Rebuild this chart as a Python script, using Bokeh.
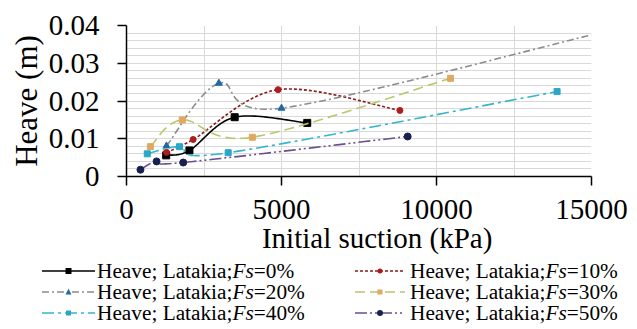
import numpy as np
from bokeh.plotting import figure
from bokeh.layouts import column
from bokeh.models import Range1d, FixedTicker, CustomJSTickFormatter, Div
from bokeh.embed import file_html
from bokeh.resources import INLINE

# ---- data ----
x_fs0 = [1280, 2030, 3490, 5830]
y_fs0 = [0.0056, 0.0069, 0.0157, 0.0142]
x_fs10 = [1290, 2150, 4890, 8820]
y_fs10 = [0.0064, 0.0098, 0.0230, 0.0175]
x_fs20 = [1290, 2980, 5000, 15000]
y_fs20 = [0.0081, 0.0247, 0.0181, 0.0375]
x_fs30 = [770, 1800, 4060, 10450]
y_fs30 = [0.0079, 0.0150, 0.0104, 0.0260]
x_fs40 = [670, 1710, 3280, 13890]
y_fs40 = [0.0060, 0.0079, 0.0063, 0.0225]
x_fs50 = [450, 970, 1830, 9070]
y_fs50 = [0.0018, 0.0040, 0.0037, 0.0106]

x_ticks = [0, 5000, 10000, 15000]
y_ticks = [0, 0.01, 0.02, 0.03, 0.04]
legend_prefix = "Heave; Latakia;"
legend_var = "Fs"
legend_values = ["=0%", "=10%", "=20%", "=30%", "=40%", "=50%"]


def smooth(xs, ys, n=30):
    """Excel-like smoothed line (Bezier through points, tension 1/6)."""
    P = np.column_stack([xs, ys]).astype(float)
    out = []
    t = np.linspace(0, 1, n)[:, None]
    for i in range(len(P) - 1):
        p0 = P[i - 1] if i > 0 else P[i]
        p1, p2 = P[i], P[i + 1]
        p3 = P[i + 2] if i + 2 < len(P) else P[i + 1]
        c1 = p1 + (p2 - p0) / 6.0
        c2 = p2 - (p3 - p1) / 6.0
        seg = ((1 - t) ** 3) * p1 + 3 * ((1 - t) ** 2) * t * c1 + 3 * (1 - t) * t ** 2 * c2 + t ** 3 * p2
        out.append(seg if i == 0 else seg[1:])
    S = np.vstack(out)
    return S[:, 0], S[:, 1]


SERIF = "Liberation Serif"
W = 637
H1 = 260
H2 = 69

p = figure(width=W, height=H1, output_backend="svg", toolbar_location=None,
           x_range=Range1d(0, 15000), y_range=Range1d(0, 0.04),
           min_border_left=126, min_border_right=46, min_border_top=25, min_border_bottom=84)
p.outline_line_color = None
p.background_fill_color = "white"
p.border_fill_color = "white"

# axes
p.xaxis.ticker = FixedTicker(ticks=x_ticks, minor_ticks=[2500, 7500, 12500])
p.yaxis.ticker = FixedTicker(ticks=y_ticks, minor_ticks=[i * 0.002 for i in range(21)])
p.yaxis.formatter = CustomJSTickFormatter(code="return tick == 0 ? '0' : tick.toFixed(2);")
for ax in (p.xaxis[0], p.yaxis[0]):
    ax.axis_line_color = "black"
    ax.axis_line_width = 1.5
    ax.major_tick_line_color = "black"
    ax.major_tick_line_width = 1.5
    ax.major_tick_out = 9
    ax.major_tick_in = 0
    ax.minor_tick_line_color = None
    ax.major_label_text_font = SERIF
    ax.major_label_text_font_size = "29px"
    ax.major_label_text_color = "black"
    ax.axis_label_text_font = SERIF
    ax.axis_label_text_font_style = "normal"
    ax.axis_label_text_color = "black"
p.xaxis.major_label_standoff = 14
p.yaxis.major_label_standoff = 18
p.yaxis.axis_label = "Heave (m)"
p.yaxis.axis_label_text_font_size = "31px"
p.yaxis.axis_label_standoff = 2
p.xaxis.axis_label = "\u00a0" * 5 + "Initial suction (kPa)"
p.xaxis.axis_label_text_font_size = "29px"
p.xaxis.axis_label_standoff = 0

# grid
for g in (p.xgrid[0], p.ygrid[0]):
    g.grid_line_color = "#d9d9d9"
    g.minor_grid_line_color = "#d9d9d9"
    g.grid_line_width = 1

styles = [
    # line colour, dash, marker, marker colour, size, number of marked points
    ("black", "solid", "square", "black", 7, 4),
    ("#8b1a1a", "3 2", "circle", "#b01c1c", 6, 4),
    ("#8c8c8c", "7 3 2 3", "triangle", "#1f6aa5", 7, 3),
    ("#b8c76a", "10 5", "square", "#e0a860", 6, 4),
    ("#33b5cc", "12 4 3 4", "square", "#2aa7c8", 6, 4),
    ("#6a4d8c", "12 3 2 3 2 3", "circle", "#17204f", 7, 4),
]
data = [(x_fs0, y_fs0), (x_fs10, y_fs10), (x_fs20, y_fs20),
        (x_fs30, y_fs30), (x_fs40, y_fs40), (x_fs50, y_fs50)]

for (xs, ys), (lc, dash, mk, mc, ms, nmk) in zip(data, styles):
    sx, sy = smooth(xs, ys)
    p.line(sx, sy, line_color=lc, line_width=1.6, line_dash=dash)
    p.scatter(xs[:nmk], ys[:nmk], marker=mk, size=ms, fill_color=mc, line_color=mc)

# ---- legend below the chart (two columns, three rows) ----
col_x = [(42, 53, 97), (355, 50, 410)]   # sample start, sample length, text start
row_y = [11, 32, 53]
FS = 21.3
font_css = f"font-family:'{SERIF}','Times New Roman',serif;font-size:{FS}px;font-weight:normal"
parts = [f'<svg xmlns="http://www.w3.org/2000/svg" width="{W}" height="{H2}" '
         f'style="display:block;{font_css}">']
for i, ((lc, dash, mk, mc, ms, nmk), val) in enumerate(zip(styles, legend_values)):
    x0, gl, tx = col_x[i % 2]
    y = row_y[i // 2]
    da = "" if dash == "solid" else f' stroke-dasharray="{dash}"'
    parts.append(f'<line x1="{x0}" y1="{y}" x2="{x0 + gl}" y2="{y}" stroke="{lc}" '
                 f'stroke-width="1.6"{da}/>')
    cx = x0 + gl / 2
    r = (ms - 1) / 2
    if mk == "square":
        parts.append(f'<rect x="{cx - r}" y="{y - r}" width="{2 * r}" height="{2 * r}" fill="{mc}"/>')
    elif mk == "circle":
        parts.append(f'<circle cx="{cx}" cy="{y}" r="{r}" fill="{mc}"/>')
    else:
        parts.append(f'<polygon points="{cx - r},{y + r * 0.8} {cx + r},{y + r * 0.8} {cx},{y - r * 1.1}" '
                     f'fill="{mc}"/>')
    parts.append(f'<text x="{tx}" y="{y + 7}" style="{font_css};font-style:normal" fill="black">'
                 f'{legend_prefix}<tspan style="font-style:italic">{legend_var}</tspan>{val}</text>')
parts.append('</svg>')

legend_div = Div(text="".join(parts), width=W, height=H2, margin=0)

layout = column(p, legend_div, spacing=0)
open("out.html", "w").write(file_html(layout, INLINE))
